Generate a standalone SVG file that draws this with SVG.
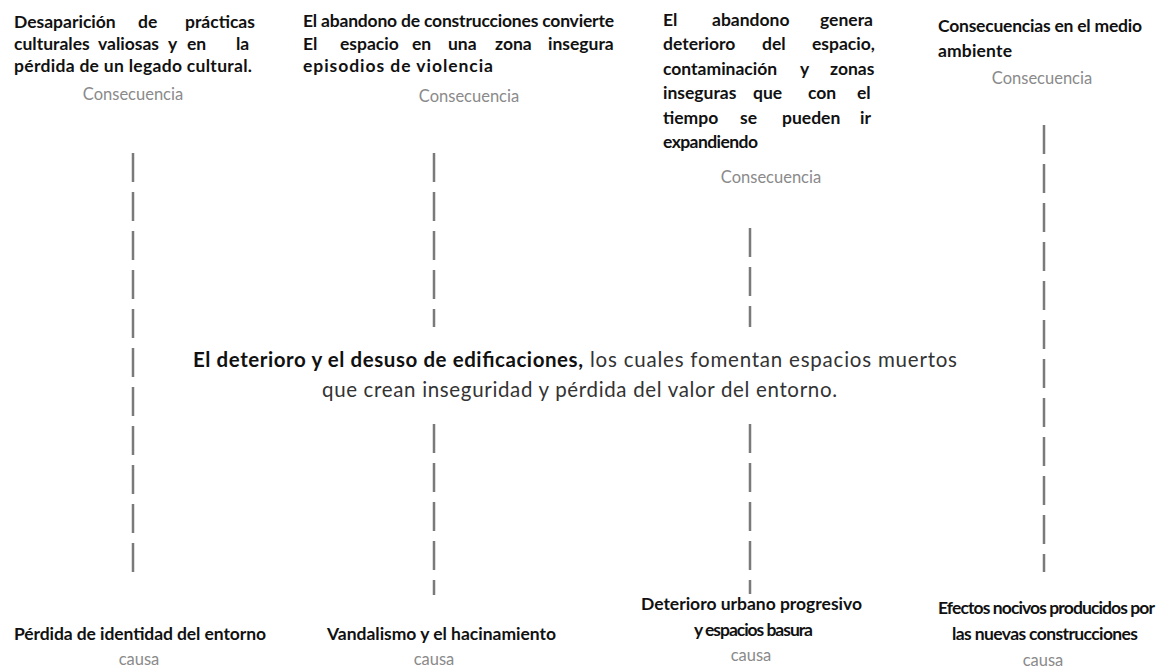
<svg xmlns="http://www.w3.org/2000/svg" width="1166" height="671" viewBox="0 0 1166 671">
<style>
.b{font-family:Lato,"Open Sans","Liberation Sans",sans-serif;font-weight:700;font-size:17.5px;fill:#111}
.g{font-family:Lato,"Open Sans","Liberation Sans",sans-serif;font-weight:400;font-size:16.5px;fill:#8a8a8a;text-anchor:middle}
.cb{font-family:Lato,"Open Sans","Liberation Sans",sans-serif;font-weight:700;font-size:20.5px;fill:#111}
.cr{font-family:Lato,"Open Sans","Liberation Sans",sans-serif;font-weight:400;font-size:20.5px;fill:#333}
.d{stroke:#7a7a7a;stroke-width:2.5;stroke-dasharray:29 10;fill:none}
</style>
<rect width="1166" height="671" fill="#fff"/>
<g id="connectors">
<line class="d" x1="133" y1="153" x2="133" y2="572"/>
<line class="d" x1="434" y1="153" x2="434" y2="327"/>
<line class="d" x1="434" y1="424" x2="434" y2="595"/>
<line class="d" x1="750" y1="228" x2="750" y2="327"/>
<line class="d" x1="750" y1="424" x2="750" y2="594"/>
<line class="d" x1="1044" y1="125" x2="1044" y2="572"/>
</g>
<g id="consecuencia1">
<text class="b" y="28"><tspan x="14">Desaparición</tspan><tspan x="138">de</tspan><tspan x="185">prácticas</tspan></text>
<text class="b" y="50"><tspan x="14">culturales</tspan><tspan x="98">valiosas</tspan><tspan x="168">y</tspan><tspan x="187">en</tspan><tspan x="236">la</tspan></text>
<text class="b" x="14" y="72" textLength="238">pérdida de un legado cultural.</text>
<text class="g" x="133" y="100">Consecuencia</text>
</g>
<g id="consecuencia2">
<text class="b" x="303" y="27" textLength="311">El abandono de construcciones convierte</text>
<text class="b" y="49.5"><tspan x="303">El</tspan><tspan x="340">espacio</tspan><tspan x="412">en</tspan><tspan x="448">una</tspan><tspan x="495">zona</tspan><tspan x="548">insegura</tspan></text>
<text class="b" x="303" y="72" textLength="190">episodios de violencia</text>
<text class="g" x="469" y="102">Consecuencia</text>
</g>
<g id="consecuencia3">
<text class="b" y="26"><tspan x="663">El</tspan><tspan x="712">abandono</tspan><tspan x="820">genera</tspan></text>
<text class="b" y="50"><tspan x="663">deterioro</tspan><tspan x="762">del</tspan><tspan x="812">espacio,</tspan></text>
<text class="b" y="75"><tspan x="663">contaminación</tspan><tspan x="800">y</tspan><tspan x="830">zonas</tspan></text>
<text class="b" y="99"><tspan x="663">inseguras</tspan><tspan x="753">que</tspan><tspan x="808">con</tspan><tspan x="857">el</tspan></text>
<text class="b" y="124"><tspan x="663">tiempo</tspan><tspan x="740">se</tspan><tspan x="782">pueden</tspan><tspan x="860">ir</tspan></text>
<text class="b" x="663" y="148" textLength="95">expandiendo</text>
<text class="g" x="771" y="183">Consecuencia</text>
</g>
<g id="consecuencia4">
<text class="b" x="938" y="32" textLength="204">Consecuencias en el medio</text>
<text class="b" x="938" y="57" textLength="74">ambiente</text>
<text class="g" x="1042" y="84">Consecuencia</text>
</g>
<g id="problema">
<text class="cb" x="193" y="367" textLength="390">El deterioro y el desuso de edificaciones,</text>
<text class="cr" x="590" y="367" textLength="367">los cuales fomentan espacios muertos</text>
<text class="cr" x="322" y="397" textLength="515">que crean inseguridad y pérdida del valor del entorno.</text>
</g>
<g id="causa1">
<text class="b" x="14" y="640" textLength="252">Pérdida de identidad del entorno</text>
<text class="g" x="139" y="665">causa</text>
</g>
<g id="causa2">
<text class="b" x="327" y="640" textLength="229">Vandalismo y el hacinamiento</text>
<text class="g" x="434" y="665">causa</text>
</g>
<g id="causa3">
<text class="b" x="641" y="610" textLength="221">Deterioro urbano progresivo</text>
<text class="b" x="694" y="636" textLength="119">y espacios basura</text>
<text class="g" x="751" y="661">causa</text>
</g>
<g id="causa4">
<text class="b" x="938" y="614" textLength="217">Efectos nocivos producidos por</text>
<text class="b" x="952" y="640" textLength="186">las nuevas construcciones</text>
<text class="g" x="1043" y="666">causa</text>
</g>
</svg>
